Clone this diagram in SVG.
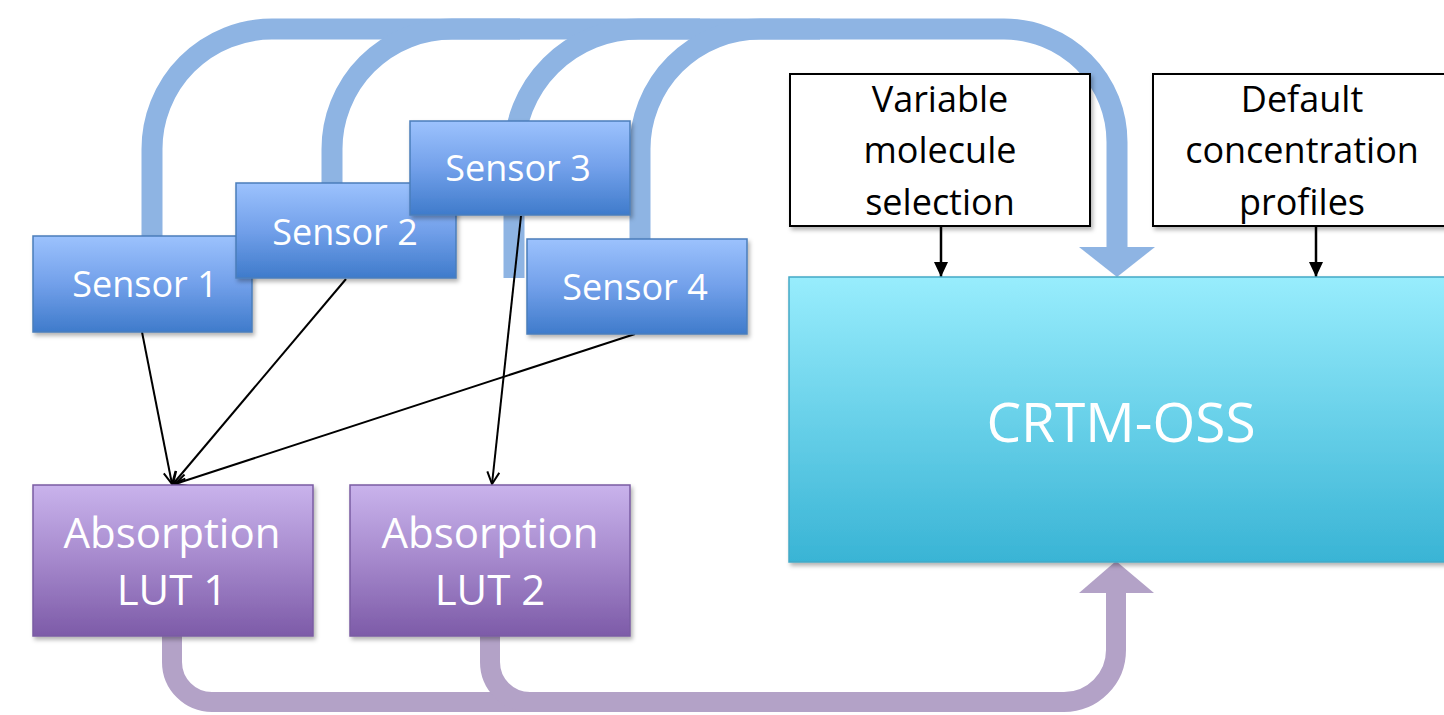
<svg xmlns="http://www.w3.org/2000/svg" width="1444" height="715" viewBox="0 0 1444 715">
<defs>
<linearGradient id="gSensor" x1="0" y1="0" x2="0" y2="1">
<stop offset="0" stop-color="#9cc2fd"/>
<stop offset="0.5" stop-color="#72a0ea"/>
<stop offset="1" stop-color="#3f7bcb"/>
</linearGradient>
<linearGradient id="gLut" x1="0" y1="0" x2="0" y2="1">
<stop offset="0" stop-color="#c9b3ec"/>
<stop offset="0.5" stop-color="#a588cc"/>
<stop offset="1" stop-color="#7d5ba8"/>
</linearGradient>
<linearGradient id="gCrtm" x1="0" y1="0" x2="0" y2="1">
<stop offset="0" stop-color="#98edfd"/>
<stop offset="1" stop-color="#39b4d5"/>
</linearGradient>
<filter id="shadow" x="-10%" y="-10%" width="130%" height="140%">
<feDropShadow dx="2" dy="3" stdDeviation="2" flood-color="#000" flood-opacity="0.3"/>
</filter>
<marker id="openArrow" viewBox="0 0 14 14" refX="13" refY="7" markerWidth="14" markerHeight="14" markerUnits="userSpaceOnUse" orient="auto">
<path d="M1,1 L13,7 L1,13" fill="none" stroke="#000" stroke-width="2"/>
</marker>
<marker id="solidArrow" viewBox="0 0 15 14" refX="15" refY="7" markerWidth="15" markerHeight="14" markerUnits="userSpaceOnUse" orient="auto">
<path d="M0,0 L15,7 L0,14 Z" fill="#000"/>
</marker>
</defs>
<style>
.thickBlue{fill:none;stroke:#8eb4e3;stroke-width:21}
.headBlue{fill:#8eb4e3}
.thickPurple{fill:none;stroke:#b3a2c7;stroke-width:20}
.headPurple{fill:#b3a2c7}
.thin{fill:none;stroke:#000;stroke-width:2;marker-end:url(#openArrow)}
.small{fill:none;stroke:#000;stroke-width:2.5;marker-end:url(#solidArrow)}
.sensor{fill:url(#gSensor);stroke:#4a7ebb;stroke-width:1.5;filter:url(#shadow)}
.lut{fill:url(#gLut);stroke:#7a5ca3;stroke-width:1.5;filter:url(#shadow)}
.crtm{fill:url(#gCrtm);stroke:#44a9c6;stroke-width:1.5;filter:url(#shadow)}
.plain{fill:#fff;stroke:#000;stroke-width:2;filter:url(#shadow)}
.wt{fill:#fff;font-family:"Open Sans","Noto Sans",sans-serif;text-anchor:middle}
.bt{fill:#000;font-family:"Open Sans","Noto Sans",sans-serif;text-anchor:middle;font-size:36px}
</style>
<rect width="1444" height="715" fill="#fff"/>
<g id="connectors">
<path class="thickBlue" d="M152,236 V149 A120,120 0 0 1 272,29 H1004 A113,113 0 0 1 1117,142 V248"/>
<path class="thickBlue" d="M332,184 V149 A120,120 0 0 1 452,29 H520"/>
<path class="thickBlue" d="M514,278 V154 A125,125 0 0 1 639,29 H700"/>
<path class="thickBlue" d="M640,240 V149 A120,120 0 0 1 760,29 H820"/>
<polygon class="headBlue" points="1079,247 1155,247 1117,277"/>
<path class="thickPurple" d="M172,636 V662 A40,40 0 0 0 212,702 H1064 A52,52 0 0 0 1116,650 V592"/>
<path class="thickPurple" d="M490,636 V662 A40,40 0 0 0 530,702 H570"/>
<polygon class="headPurple" points="1079,593 1154,593 1116,561"/>
<path class="thin" d="M142,332 L172,484"/>
<path class="thin" d="M346,279 L173,484"/>
<path class="thin" d="M635,334 L175,484"/>
<path class="thin" d="M521,216 L492,484"/>
<path class="small" d="M941,226 V277"/>
<path class="small" d="M1316,226 V277"/>
</g>
<g id="sensor1">
<rect class="sensor" x="33" y="236" width="219" height="96"/>
<text class="wt" x="145" y="297" font-size="36">Sensor 1</text>
</g>
<g id="sensor2">
<rect class="sensor" x="236" y="183" width="220" height="95"/>
<text class="wt" x="345" y="245" font-size="36">Sensor 2</text>
</g>
<g id="sensor3">
<rect class="sensor" x="410" y="121" width="220" height="94"/>
<text class="wt" x="518" y="181" font-size="36">Sensor 3</text>
</g>
<g id="sensor4">
<rect class="sensor" x="527" y="239" width="220" height="95"/>
<text class="wt" x="635" y="300" font-size="36">Sensor 4</text>
</g>
<g id="lut1">
<rect class="lut" x="33" y="485" width="280" height="151"/>
<text class="wt" x="172" y="548" font-size="42">Absorption</text>
<text class="wt" x="172" y="605" font-size="42">LUT 1</text>
</g>
<g id="lut2">
<rect class="lut" x="350" y="485" width="280" height="151"/>
<text class="wt" x="490" y="548" font-size="42">Absorption</text>
<text class="wt" x="490" y="605" font-size="42">LUT 2</text>
</g>
<g id="crtm">
<rect class="crtm" x="789" y="277" width="670" height="285"/>
<text class="wt" x="1121" y="442" font-size="55">CRTM-OSS</text>
</g>
<g id="variable">
<rect class="plain" x="790" y="74" width="300" height="152"/>
<text class="bt" x="940" y="112">Variable</text>
<text class="bt" x="940" y="163">molecule</text>
<text class="bt" x="940" y="215">selection</text>
</g>
<g id="default">
<rect class="plain" x="1153" y="74" width="300" height="152"/>
<text class="bt" x="1302" y="112">Default</text>
<text class="bt" x="1302" y="163">concentration</text>
<text class="bt" x="1302" y="215">profiles</text>
</g>
</svg>
